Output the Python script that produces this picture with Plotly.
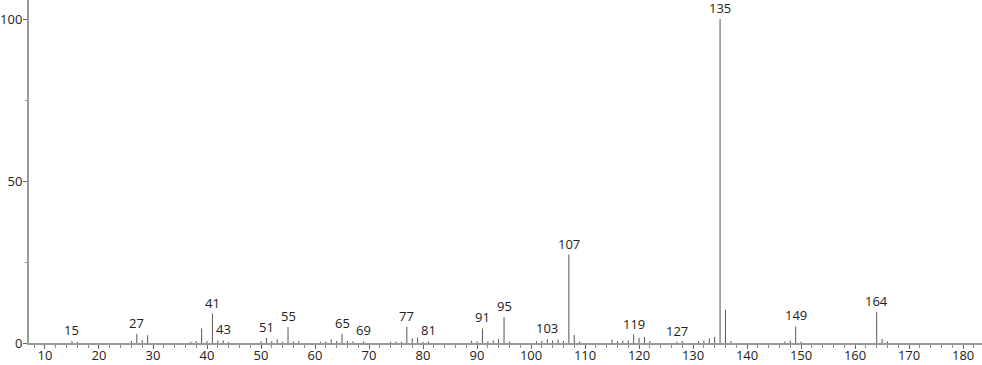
import plotly.graph_objects as go

mz = [15, 16, 26, 27, 28, 29, 37, 38, 39, 40, 41, 42, 43, 44,
      50, 51, 52, 53, 54, 55, 56, 57, 61, 62, 63, 64, 65, 66, 67, 69,
      74, 75, 76, 77, 78, 79, 80, 81, 89, 90, 91, 92, 93, 94, 95, 96,
      101, 102, 103, 104, 105, 106, 107, 108, 109,
      115, 116, 117, 118, 119, 120, 121, 122, 127, 128,
      131, 132, 133, 134, 135, 136, 137, 147, 148, 149, 150, 164, 165, 166]
intensity = [0.6, 0.3, 0.6, 2.8, 0.9, 2.4, 0.4, 0.6, 4.5, 0.6, 9.1, 0.8, 0.8, 0.3,
             0.5, 1.6, 0.6, 1.2, 0.4, 4.9, 0.5, 0.6, 0.4, 0.5, 1.1, 0.6, 2.8, 0.6, 0.5, 0.5,
             0.4, 0.5, 0.4, 5.0, 1.4, 1.7, 0.3, 0.5, 0.7, 0.5, 4.5, 0.5, 0.8, 1.2, 8.0, 0.5,
             0.6, 0.7, 1.2, 0.8, 1.1, 0.6, 27.3, 2.5, 0.5,
             1.1, 0.6, 0.7, 0.8, 2.6, 1.6, 1.8, 0.6, 0.4, 0.6,
             0.6, 0.8, 1.4, 1.9, 100.0, 10.3, 0.6, 0.5, 0.7, 5.1, 0.4, 9.5, 1.2, 0.5]
labeled_mz = [15, 27, 41, 43, 51, 55, 65, 69, 77, 81, 91, 95, 103, 107,
              119, 127, 135, 149, 164]

xs, ys = [], []
for m, v in zip(mz, intensity):
    xs += [m, m, None]
    ys += [0, v, None]

fig = go.Figure()
fig.add_trace(go.Scatter(x=xs, y=ys, mode="lines",
                         line=dict(color="#555555", width=1),
                         hoverinfo="skip", showlegend=False))

lookup = dict(zip(mz, intensity))
for m in labeled_mz:
    fig.add_annotation(x=m, y=lookup[m], text=str(m), showarrow=False,
                       xanchor="center", yanchor="bottom", yshift=0,
                       font=dict(size=13, color="#222222", family="Open Sans"))

fig.update_layout(
    width=982, height=365,
    margin=dict(l=29, r=0, t=0, b=22, autoexpand=False),
    paper_bgcolor="white", plot_bgcolor="white",
    font=dict(family="Open Sans", size=13, color="#222222"),
    xaxis=dict(range=[7.04, 183.5], tickmode="linear", tick0=0, dtick=10,
               automargin=False, ticklabelstandoff=-5,
               tickfont=dict(size=13),
               showgrid=False, zeroline=False, showline=True,
               linecolor="#999999", linewidth=2,
               ticks="outside", ticklen=4, tickcolor="#666666", tickwidth=1,
               minor=dict(dtick=2, tick0=0, ticks="outside", ticklen=3,
                          tickcolor="#888888", showgrid=False),
               fixedrange=True),
    yaxis=dict(range=[0, 105.9], tickvals=[0, 50, 100],
               automargin=False, ticklabelstandoff=-2,
               tickfont=dict(size=13),
               showgrid=False, zeroline=False, showline=True,
               linecolor="#999999", linewidth=2,
               ticks="outside", ticklen=4, tickcolor="#666666", tickwidth=1,
               minor=dict(tickvals=[25, 75], ticks="outside", ticklen=2,
                          tickcolor="#888888", showgrid=False),
               fixedrange=True),
)

fig.write_html("out.html")
